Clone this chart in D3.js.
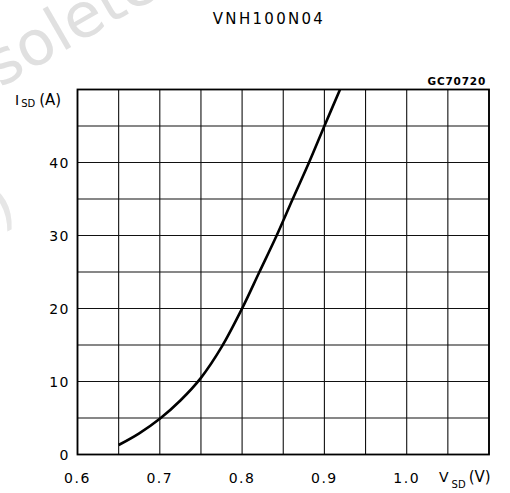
<!DOCTYPE html>
<html>
<head>
<meta charset="utf-8">
<script src="https://cdn.jsdelivr.net/npm/d3@7"></script>
<style>
  body { margin: 0; background: #fff; }
  text { font-family: "DejaVu Sans", sans-serif; fill: #000; }
</style>
</head>
<body>
<script>
var width = 510, height = 493;

// curve
var vsd = [0.65, 0.675, 0.7, 0.725, 0.75, 0.775, 0.8, 0.821, 0.842, 0.8615, 0.8813, 0.9, 0.919];
var isd = [1.3, 2.9, 4.9, 7.4, 10.5, 14.7, 20, 25, 30, 35, 40, 45, 50];

var xTicks = [0.6, 0.7, 0.8, 0.9, 1.0];
var yTicks = [0, 10, 20, 30, 40];
var xGrid = d3.range(0, 11).map(function (i) { return 0.6 + i * 0.05; });
var yGrid = d3.range(0, 11).map(function (i) { return i * 5; });

var pLeft = 77.5, pRight = 489, pTop = 89.5, pBottom = 454.5;

var svg = d3.select("body").append("svg")
    .attr("width", width)
    .attr("height", height);

// faint watermark, mostly hidden behind the plot
svg.append("text")
    .attr("transform", "translate(-76,132) rotate(-30)")
    .style("font-size", "62px")
    .style("fill", "#e0e0e0")
    .text("Obsolete Product(s)");
svg.append("text")
    .attr("transform", "translate(20,215) rotate(-30)")
    .attr("text-anchor", "end")
    .style("font-size", "62px")
    .style("fill", "#e6e6e6")
    .text("Obsolete Product(s)");

var x = d3.scaleLinear().domain([0.6, 1.1]).range([pLeft, pRight]);
var y = d3.scaleLinear().domain([0, 50]).range([pBottom, pTop]);

svg.append("rect")
    .attr("x", pLeft).attr("y", pTop)
    .attr("width", pRight - pLeft).attr("height", pBottom - pTop)
    .attr("fill", "#fff");

var g = svg.append("g");
g.selectAll("line.v")
    .data(xGrid)
    .enter().append("line")
    .attr("class", "v")
    .attr("x1", function (d) { return x(d); })
    .attr("x2", function (d) { return x(d); })
    .attr("y1", pTop).attr("y2", pBottom)
    .attr("stroke", "#111").attr("stroke-width", 1.1);
g.selectAll("line.h")
    .data(yGrid)
    .enter().append("line")
    .attr("class", "h")
    .attr("y1", function (d) { return y(d); })
    .attr("y2", function (d) { return y(d); })
    .attr("x1", pLeft).attr("x2", pRight)
    .attr("stroke", "#111").attr("stroke-width", 1.1);

svg.append("rect")
    .attr("x", pLeft).attr("y", pTop)
    .attr("width", pRight - pLeft).attr("height", pBottom - pTop)
    .attr("fill", "none").attr("stroke", "#000").attr("stroke-width", 1.8);

var line = d3.line()
    .x(function (d) { return x(d[0]); })
    .y(function (d) { return y(d[1]); })
    .curve(d3.curveCatmullRom);

svg.append("path")
    .datum(d3.zip(vsd, isd))
    .attr("d", line)
    .attr("fill", "none")
    .attr("stroke", "#000")
    .attr("stroke-width", 2.6);

// tick labels
svg.selectAll("text.xt")
    .data(xTicks)
    .enter().append("text")
    .attr("class", "xt")
    .attr("x", function (d) { return x(d); })
    .attr("y", 483)
    .attr("text-anchor", "middle")
    .style("font-size", "14px")
    .style("letter-spacing", "1.5px")
    .text(function (d) { return d.toFixed(1); });

svg.selectAll("text.yt")
    .data(yTicks)
    .enter().append("text")
    .attr("class", "yt")
    .attr("x", 70)
    .attr("y", function (d) { return y(d) + 5; })
    .attr("text-anchor", "end")
    .style("font-size", "14px")
    .style("letter-spacing", "1.5px")
    .text(function (d) { return d; });

// axis titles
var yl = svg.append("text").attr("x", 15).attr("y", 105).style("font-size", "14px");
yl.append("tspan").text("I");
yl.append("tspan").attr("dx", 2).attr("dy", 2).style("font-size", "10px").text("SD");
yl.append("tspan").attr("dx", 4).attr("dy", -2).style("font-size", "15px").text("(A)");

var xl = svg.append("text").attr("x", 439).attr("y", 482).style("font-size", "14px");
xl.append("tspan").text("V");
xl.append("tspan").attr("dx", 3).attr("dy", 6).style("font-size", "10px").text("SD");
xl.append("tspan").attr("dx", 3).attr("dy", -6).style("font-size", "15px").text("(V)");

svg.append("text")
    .attr("x", 269).attr("y", 24)
    .attr("text-anchor", "middle")
    .style("font-size", "15px")
    .style("letter-spacing", "2.3px")
    .text("VNH100N04");

svg.append("text")
    .attr("x", 486).attr("y", 85)
    .attr("text-anchor", "end")
    .style("font-size", "10.5px")
    .style("font-weight", "bold")
    .style("letter-spacing", "0.8px")
    .text("GC70720");
</script>
</body>
</html>
